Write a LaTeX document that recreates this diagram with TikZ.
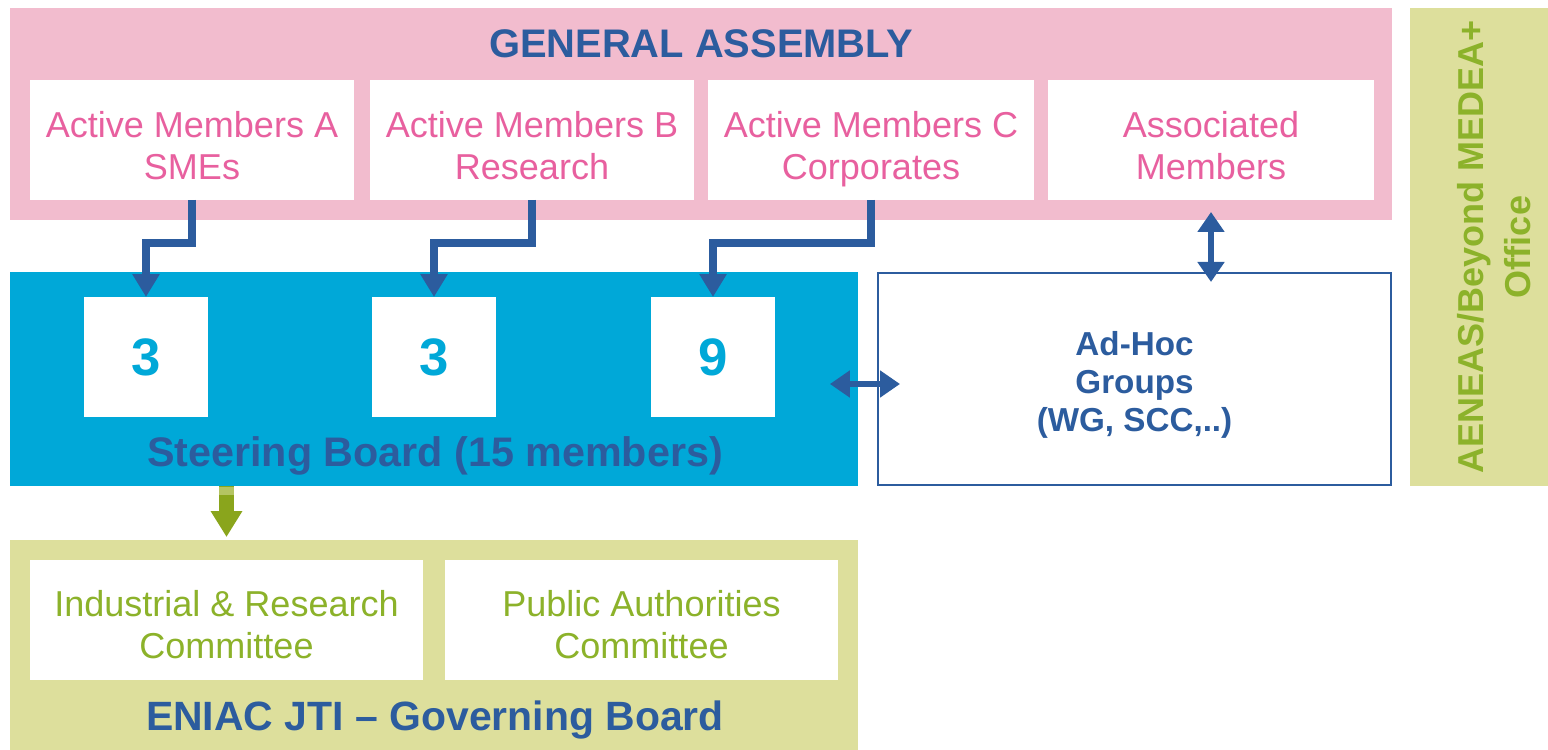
\documentclass[tikz,border=0pt]{standalone}
\usepackage{fontspec}
\setmainfont{Liberation Sans}
\usetikzlibrary{arrows.meta}
\definecolor{gapink}{HTML}{F2BCCE}
\definecolor{pinktxt}{HTML}{E8609F}
\definecolor{dblue}{HTML}{2C5C9E}
\definecolor{cyanb}{HTML}{00A8D8}
\definecolor{lgreen}{HTML}{DDDF9C}
\definecolor{gtxt}{HTML}{8CB22A}
\definecolor{garrow}{HTML}{8AA51C}
\definecolor{garrowl}{HTML}{B4C462}
\tikzset{
  panel/.style={draw=none, inner sep=0pt, outer sep=0pt},
  wbox/.style={panel, fill=white},
  btext/.style={inner sep=0pt, align=center, font=\fontsize{20.5}{23.8}\selectfont},
  numbox/.style={panel, fill=white, minimum width=2.48cm, minimum height=2.4cm, text=cyanb, font=\fontsize{30}{34}\selectfont\bfseries},
  title/.style={inner sep=0pt, text=dblue, font=\fontsize{23.5}{26}\selectfont\bfseries},
  barrow/.style={draw=dblue, line width=4pt, -{Triangle[width=0.52cm,length=0.46cm]}},
  darrow/.style={draw=dblue, line width=3.4pt, {Triangle[width=0.52cm,length=0.4cm]}-{Triangle[width=0.52cm,length=0.4cm]}},
  garr/.style={draw=garrow, line width=8.5pt, -{Triangle[width=0.6cm,length=0.52cm]}},
}
\begin{document}
\begin{tikzpicture}[x=0.02cm, y=-0.02cm]
\useasboundingbox (0,0) rectangle (1548,750);
% General assembly
\node[panel, fill=gapink, minimum width=27.64cm, minimum height=4.24cm] (ga) at (701,114) {};
\node[title, font=\fontsize{22.7}{26}\selectfont\bfseries] (gat) at (701,44) {GENERAL ASSEMBLY};
\node[wbox, minimum width=6.48cm, minimum height=2.4cm] (a) at (192,140) {};
\node[wbox, minimum width=6.48cm, minimum height=2.4cm] (b) at (532,140) {};
\node[wbox, minimum width=6.52cm, minimum height=2.4cm] (c) at (871,140) {};
\node[wbox, minimum width=6.52cm, minimum height=2.4cm] (as) at (1211,140) {};
\node[btext, text=pinktxt] (at) at ([shift={(0,9)}]a.center) {Active Members A\\SMEs\vphantom{p}};
\node[btext, text=pinktxt] (bt) at ([shift={(0,9)}]b.center) {Active Members B\\Research\vphantom{p}};
\node[btext, text=pinktxt] (ct) at ([shift={(0,9)}]c.center) {Active Members C\\Corporates};
\node[btext, text=pinktxt] (ast) at ([shift={(0,9)}]as.center) {Associated\\Members\vphantom{p}};
% Steering board
\node[panel, fill=cyanb, minimum width=16.96cm, minimum height=4.28cm] (sb) at (434,379) {};
\node[numbox] (n1) at (146,357) {3};
\node[numbox] (n2) at (434,357) {3};
\node[numbox] (n3) at (713,357) {9};
\node[title] (sbt) at (435,456) {Steering Board (15 members)};
% Ad-hoc
\node[draw=dblue, line width=1.2pt, fill=white, inner sep=0pt, minimum width=10.26cm, minimum height=4.24cm] (ah) at (1134.5,379) {};
\node[inner sep=0pt, align=center, text=dblue, font=\fontsize{18.9}{21.5}\selectfont\bfseries] (aht) at ([shift={(0,6)}]ah.center) {Ad-Hoc\\Groups\\(WG, SCC,..)};
% Office
\node[panel, fill=lgreen, minimum width=2.76cm, minimum height=9.56cm] (of) at (1479,247) {};
\node[rotate=90, inner sep=0pt, align=center, text=gtxt, font=\fontsize{20.5}{27}\selectfont\bfseries] (oft) at (1494,247) {AENEAS/Beyond MEDEA+\\Office};
% ENIAC
\node[panel, fill=lgreen, minimum width=16.96cm, minimum height=4.2cm] (en) at (434,645) {};
\node[wbox, minimum width=7.86cm, minimum height=2.4cm] (ir) at (226.5,620) {};
\node[wbox, minimum width=7.86cm, minimum height=2.4cm] (pa) at (641.5,620) {};
\node[btext, text=gtxt] (irt) at ([shift={(0,4.5)}]ir.center) {Industrial \& Research\\Committee};
\node[btext, text=gtxt] (pat) at ([shift={(0,4.5)}]pa.center) {Public Authorities\\Committee};
\node[title, font=\fontsize{23.3}{26}\selectfont\bfseries] (ent) at (435,720) {ENIAC JTI -- Governing Board};
% arrows
\draw[barrow] (a.south) -- ++(0,43) -| (n1.north);
\draw[barrow] (b.south) -- ++(0,43) -| (n2.north);
\draw[barrow] (c.south) -- ++(0,43) -| (n3.north);
\draw[darrow] ([shift={(0,12)}]as.south) -- ([shift={(0,10)}]ah.north -| as.south);
\draw[darrow] ([shift={(-28,5)}]sb.east) -- ([shift={(23,5)}]ah.west);
\draw[garr] (sb.south -| ir.north) -- ([shift={(0,-3)}]en.north -| ir.north);
\fill[garrowl] ([shift={(-7.5,1)}]sb.south -| ir.north) rectangle ([shift={(7.5,9)}]sb.south -| ir.north);
\end{tikzpicture}
\end{document}
